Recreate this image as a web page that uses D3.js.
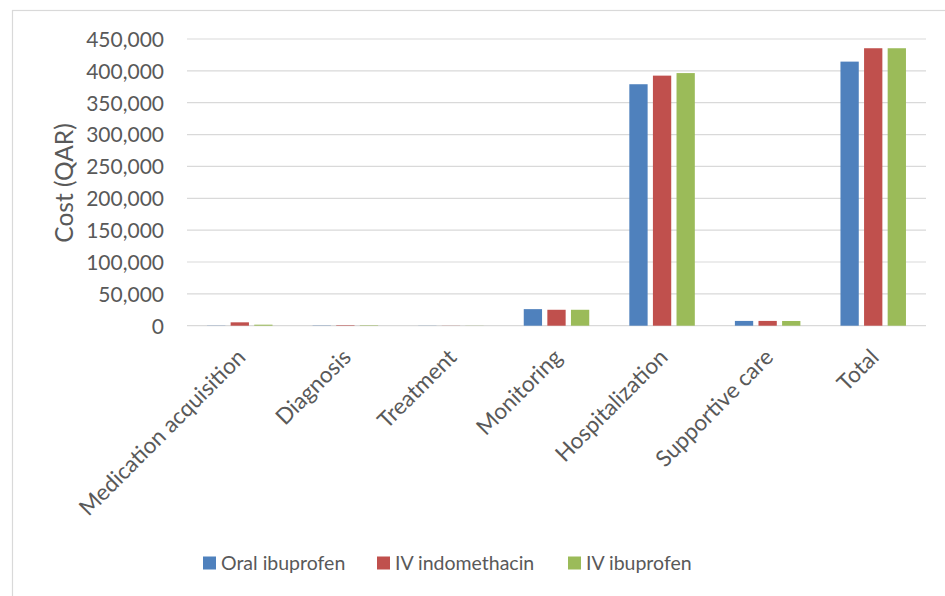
<!DOCTYPE html>
<html>
<head>
<meta charset="utf-8">
<script src="https://cdn.jsdelivr.net/npm/d3@7/dist/d3.min.js"></script>
<style>
  html, body { margin: 0; padding: 0; background: #fff; }
  svg { display: block; }
  text { font-family: Lato, "Open Sans", sans-serif; fill: #595959; }
</style>
</head>
<body>
<svg id="chart" width="945" height="596"></svg>
<script>
// Cost components per treatment strategy (QAR)
const categories = ["Medication acquisition", "Diagnosis", "Treatment", "Monitoring",
                    "Hospitalization", "Supportive care", "Total"];
const seriesNames = ["Oral ibuprofen", "IV indomethacin", "IV ibuprofen"];
const oralIbuprofen   = [300,  400, 200, 26000, 379000, 7500, 414500];
const ivIndomethacin  = [5300, 800, 200, 25000, 392500, 7500, 435500];
const ivIbuprofen     = [1600, 700, 200, 25000, 396500, 7400, 435500];
const yTicks = [0, 50000, 100000, 150000, 200000, 250000, 300000, 350000, 400000, 450000];
const colors = ["#4F81BD", "#C0504D", "#9BBB59"];

const seriesValues = [oralIbuprofen, ivIndomethacin, ivIbuprofen];

const svg = d3.select("#chart");
const plot = { left: 187, right: 926, top: 39, bottom: 325.7 };

// outer chart frame
svg.append("rect")
  .attr("x", 12.5).attr("y", 10.5)
  .attr("width", 940).attr("height", 600)
  .attr("fill", "none").attr("stroke", "#d9d9d9").attr("stroke-width", 1.2);

const x = d3.scaleBand().domain(categories).range([plot.left, plot.right]).padding(0);
const y = d3.scaleLinear().domain([0, 450000]).range([plot.bottom, plot.top]);
const barW = 18.3, barStep = 23.6;

// horizontal gridlines
svg.append("g").selectAll("line").data(yTicks).join("line")
  .attr("x1", plot.left).attr("x2", plot.right)
  .attr("y1", d => y(d)).attr("y2", d => y(d))
  .attr("stroke", "#d9d9d9").attr("stroke-width", 1.2);

// y axis labels
const yAxis = d3.axisLeft(y).tickValues(yTicks).tickSize(0).tickPadding(0)
  .tickFormat(d3.format(","));
svg.append("g").attr("transform", `translate(164,0)`).call(yAxis)
  .call(g => g.select(".domain").remove())
  .call(g => g.selectAll("text")
    .attr("font-size", 21).attr("fill", "#595959")
    .attr("font-family", "Lato, sans-serif")
    .attr("dy", "0.35em"));

// y axis title
svg.append("text")
  .attr("transform", "translate(73,183) rotate(-90)")
  .attr("text-anchor", "middle")
  .attr("font-size", 24.5)
  .text("Cost (QAR)");

// bars
const groups = svg.append("g").selectAll("g").data(seriesValues).join("g")
  .attr("fill", (d, i) => colors[i]);
groups.each(function(vals, si) {
  d3.select(this).selectAll("rect").data(vals).join("rect")
    .attr("x", (v, ci) => x(categories[ci]) + x.bandwidth() / 2 + (si - 1) * barStep - barW / 2)
    .attr("width", barW)
    .attr("y", v => y(v))
    .attr("height", v => y(0) - y(v));
});

// category labels, rotated
svg.append("g").selectAll("text").data(categories).join("text")
  .attr("transform", d => `translate(${x(d) + x.bandwidth() / 2 + 7},${plot.bottom + 33}) rotate(-45)`)
  .attr("text-anchor", "end")
  .attr("font-size", 22.5)
  .text(d => d);

// legend
const legendX = [203, 377, 568];
const legend = svg.append("g").selectAll("g").data(seriesNames).join("g")
  .attr("transform", (d, i) => `translate(${legendX[i]},563)`);
legend.append("rect")
  .attr("x", 0).attr("y", -6.5).attr("width", 13).attr("height", 13)
  .attr("fill", (d, i) => colors[i]);
legend.append("text")
  .attr("x", 18).attr("dy", "0.35em")
  .attr("font-size", 19.5)
  .text(d => d);
</script>
</body>
</html>
